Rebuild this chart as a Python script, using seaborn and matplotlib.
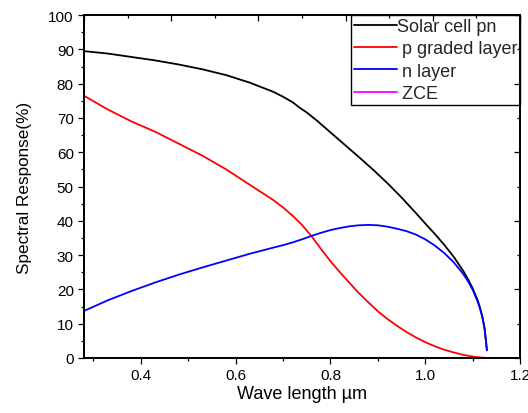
import numpy as np
import pandas as pd
import matplotlib
matplotlib.use("Agg")
import matplotlib.pyplot as plt
import seaborn as sns
from matplotlib.ticker import MultipleLocator, NullFormatter

# ---- data ----
series_names = ["Solar cell pn", " p graded layer", " n layer", " ZCE"]
series_colors = ["#000000", "#ff0000", "#0000ff", "#ff00ff"]

solar_x = [0.28, 0.33, 0.38, 0.43, 0.48, 0.53, 0.58, 0.63, 0.68, 0.70, 0.72, 0.735, 0.75,
           0.77, 0.80, 0.83, 0.86, 0.89, 0.92, 0.95, 0.98, 1.00, 1.02, 1.04, 1.06,
           1.08, 1.09, 1.10, 1.11, 1.115, 1.12, 1.125, 1.128, 1.13]
solar_y = [89.5, 88.8, 87.8, 86.8, 85.6, 84.2, 82.5, 80.3, 77.6, 76.2, 74.6, 73.0, 71.6,
           69.4, 65.8, 62.2, 58.6, 54.9, 51.0, 46.8, 42.3, 39.2, 36.2, 33.0, 29.5,
           25.4, 23.0, 20.3, 17.0, 14.9, 12.3, 8.8, 5.0, 2.3]

pgraded_x = [0.28, 0.33, 0.38, 0.43, 0.48, 0.53, 0.58, 0.63, 0.68, 0.70, 0.72, 0.74, 0.76,
             0.78, 0.80, 0.82, 0.84, 0.86, 0.88, 0.90, 0.92, 0.94, 0.96, 0.98, 1.00,
             1.02, 1.04, 1.06, 1.08, 1.10, 1.12, 1.13]
pgraded_y = [76.5, 72.5, 69.0, 66.0, 62.5, 59.0, 55.0, 50.5, 46.0, 43.9, 41.5, 38.8, 35.5,
             31.8, 28.2, 25.0, 21.9, 18.9, 16.2, 13.6, 11.4, 9.4, 7.6, 6.0, 4.6,
             3.4, 2.4, 1.6, 0.9, 0.4, 0.1, 0.0]

nlayer_x = [0.28, 0.33, 0.38, 0.43, 0.48, 0.53, 0.58, 0.63, 0.68, 0.70, 0.72, 0.74, 0.76,
            0.78, 0.80, 0.82, 0.84, 0.86, 0.88, 0.90, 0.92, 0.94, 0.96, 0.98, 1.00,
            1.02, 1.04, 1.06, 1.08, 1.09, 1.10, 1.11, 1.115, 1.12, 1.125, 1.128, 1.13]
nlayer_y = [13.7, 16.8, 19.5, 22.0, 24.3, 26.4, 28.4, 30.4, 32.2, 32.9, 33.7, 34.6, 35.6,
            36.5, 37.3, 37.9, 38.4, 38.7, 38.8, 38.7, 38.3, 37.7, 37.0, 36.0, 34.6,
            32.8, 30.6, 27.9, 24.5, 22.4, 19.9, 16.6, 14.6, 12.1, 8.6, 4.9, 2.2]

zce_x = [0.28, 1.13]
zce_y = [0.0, 0.0]

xs = [solar_x, pgraded_x, nlayer_x, zce_x]
ys = [solar_y, pgraded_y, nlayer_y, zce_y]

frames = []
for name, x, y in zip(series_names, xs, ys):
    frames.append(pd.DataFrame({"wl": x, "sr": y, "series": name}))
df = pd.concat(frames, ignore_index=True)

sns.set_theme(style="ticks")
plt.rcParams["font.family"] = ["Liberation Sans", "DejaVu Sans"]

fig = plt.figure(figsize=(5.28, 4.14), dpi=100)
ax = fig.add_axes([0.159, 0.133, 0.826, 0.828])

sns.lineplot(data=df, x="wl", y="sr", hue="series", hue_order=series_names,
             palette=series_colors, sort=False, estimator=None, units="series",
             linewidth=1.3, ax=ax)

ax.set_xlim(0.28, 1.2)
ax.set_ylim(0, 100)
ax.xaxis.set_major_locator(MultipleLocator(0.2))
ax.xaxis.set_minor_locator(MultipleLocator(0.1))
ax.yaxis.set_major_locator(MultipleLocator(10))
ax.yaxis.set_minor_locator(MultipleLocator(5))
ax.tick_params(which="both", direction="out", top=False, right=False,
               labelsize=11, color="black", labelcolor="black", pad=3)
ax.tick_params(which="major", length=4.3, width=0.9)
ax.tick_params(which="minor", length=2.2, width=0.9)
for s in ax.spines.values():
    s.set_color("black")
    s.set_linewidth(1.2)
    s.set_visible(True)

ax.set_xlabel("Wave length µm", fontsize=13, color="black", labelpad=2)
ax.set_ylabel("Spectral Response(%)", fontsize=12.3, color="black", labelpad=12)

leg = ax.legend(loc="upper right", fontsize=13, frameon=True, fancybox=False,
                edgecolor="black", framealpha=1, borderaxespad=0.0, borderpad=0.15,
                handlelength=2.4, handletextpad=0.0, labelspacing=0.3)
leg.get_frame().set_linewidth(1.0)

# mirrored top / right axes (inward ticks, own scales as in the reference)
axt = ax.twiny()
axt.set_xlim(0.2, 1.2)
axt.xaxis.set_major_locator(MultipleLocator(0.2))
axt.xaxis.set_minor_locator(MultipleLocator(0.1))
axt.xaxis.set_major_formatter(NullFormatter())
axt.tick_params(which="both", direction="in", color="black")
axt.tick_params(which="major", length=4.3, width=0.9)
axt.tick_params(which="minor", length=2.2, width=0.9)

axr = ax.twinx()
axr.set_ylim(0, 100)
axr.yaxis.set_major_locator(MultipleLocator(20))
axr.yaxis.set_minor_locator(MultipleLocator(10))
axr.yaxis.set_major_formatter(NullFormatter())
axr.tick_params(which="both", direction="in", color="black")
axr.tick_params(which="major", length=4.3, width=0.9)
axr.tick_params(which="minor", length=2.2, width=0.9)
for a in (axt, axr):
    a.grid(False)
    for s in a.spines.values():
        s.set_color("black")
        s.set_linewidth(1.2)

fig.savefig("out.png", dpi=100)
